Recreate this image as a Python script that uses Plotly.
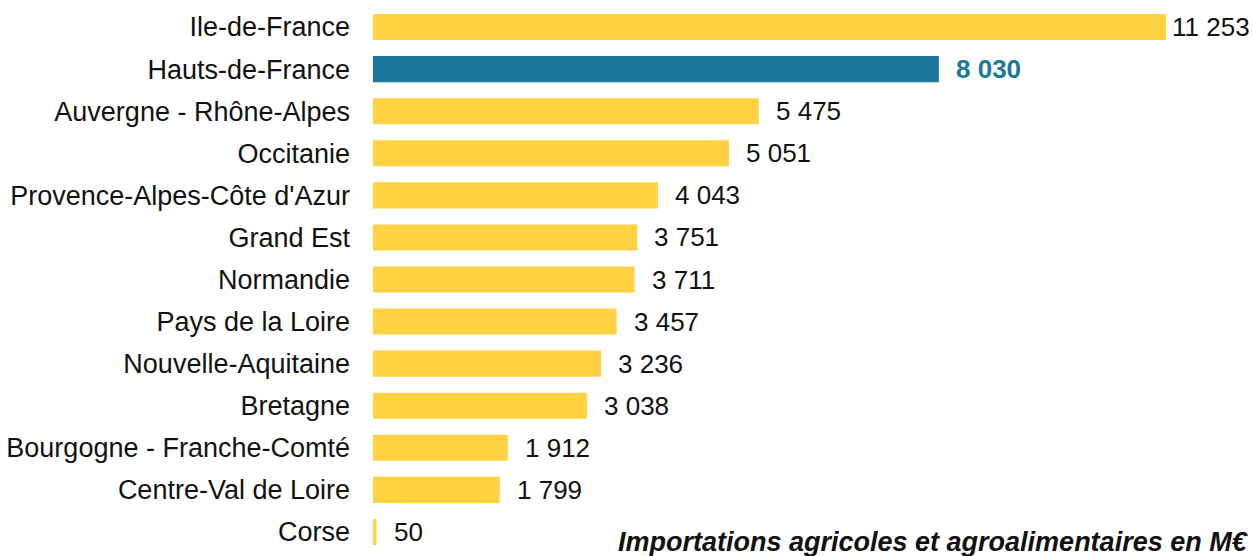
import plotly.graph_objects as go

# ── Data ─────────────────────────────────────────────────────────────────────
REGIONS = [
    "Ile-de-France", "Hauts-de-France", "Auvergne - Rhône-Alpes", "Occitanie",
    "Provence-Alpes-Côte d'Azur", "Grand Est", "Normandie", "Pays de la Loire",
    "Nouvelle-Aquitaine", "Bretagne", "Bourgogne - Franche-Comté",
    "Centre-Val de Loire", "Corse",
]
IMPORTS = [11253, 8030, 5475, 5051, 4043, 3751, 3711, 3457, 3236, 3038, 1912, 1799, 50]
HIGHLIGHT = "Hauts-de-France"
TITLE = "Importations agricoles et agroalimentaires en M€"

# ── Palette ──────────────────────────────────────────────────────────────────
YELLOW = "#FED243"
BLUE = "#1C7899"
TEXT = "#111111"
FONT = "Liberation Sans, Arial, sans-serif"


def fmt(v):
    return f"{v:,}".replace(",", " ")


colors = [BLUE if r == HIGHLIGHT else YELLOW for r in REGIONS]

fig = go.Figure(go.Bar(
    x=IMPORTS, y=REGIONS, orientation="h",
    marker=dict(color=colors, line_width=0),
    hoverinfo="skip",
))

# value labels
for r, v in zip(REGIONS, IMPORTS):
    hl = r == HIGHLIGHT
    fig.add_annotation(
        x=v, y=r, xref="x", yref="y",
        text=f"<b>{fmt(v)}</b>" if hl else fmt(v),
        showarrow=False, xanchor="left", yanchor="middle",
        xshift=4 if v > 10000 else 15,
        font=dict(size=26, color=BLUE if hl else TEXT, family=FONT),
    )

fig.add_annotation(
    x=0.276, y=0, xref="paper", yref="paper",
    text=f"<b><i>{TITLE}</i></b>",
    showarrow=False, xanchor="left", yanchor="middle", yshift=11,
    font=dict(size=27, color=TEXT, family=FONT),
)

fig.update_layout(
    width=1253, height=556,
    paper_bgcolor="white", plot_bgcolor="white",
    margin=dict(l=373, r=0, t=6, b=3),
    bargap=0.38,
    showlegend=False,
    font=dict(family=FONT, color=TEXT, size=26),
    xaxis=dict(range=[0, 12488], visible=False, fixedrange=True),
    yaxis=dict(autorange="reversed", showgrid=False, showline=False,
               ticks="", ticklabelstandoff=22, fixedrange=True,
               tickfont=dict(size=27, color=TEXT, family=FONT)),
)

# drop the default page margin so the figure sits at the window's corner
fig.write_html("out.html", config={"displayModeBar": False},
               post_script="document.body.style.margin='0';")
